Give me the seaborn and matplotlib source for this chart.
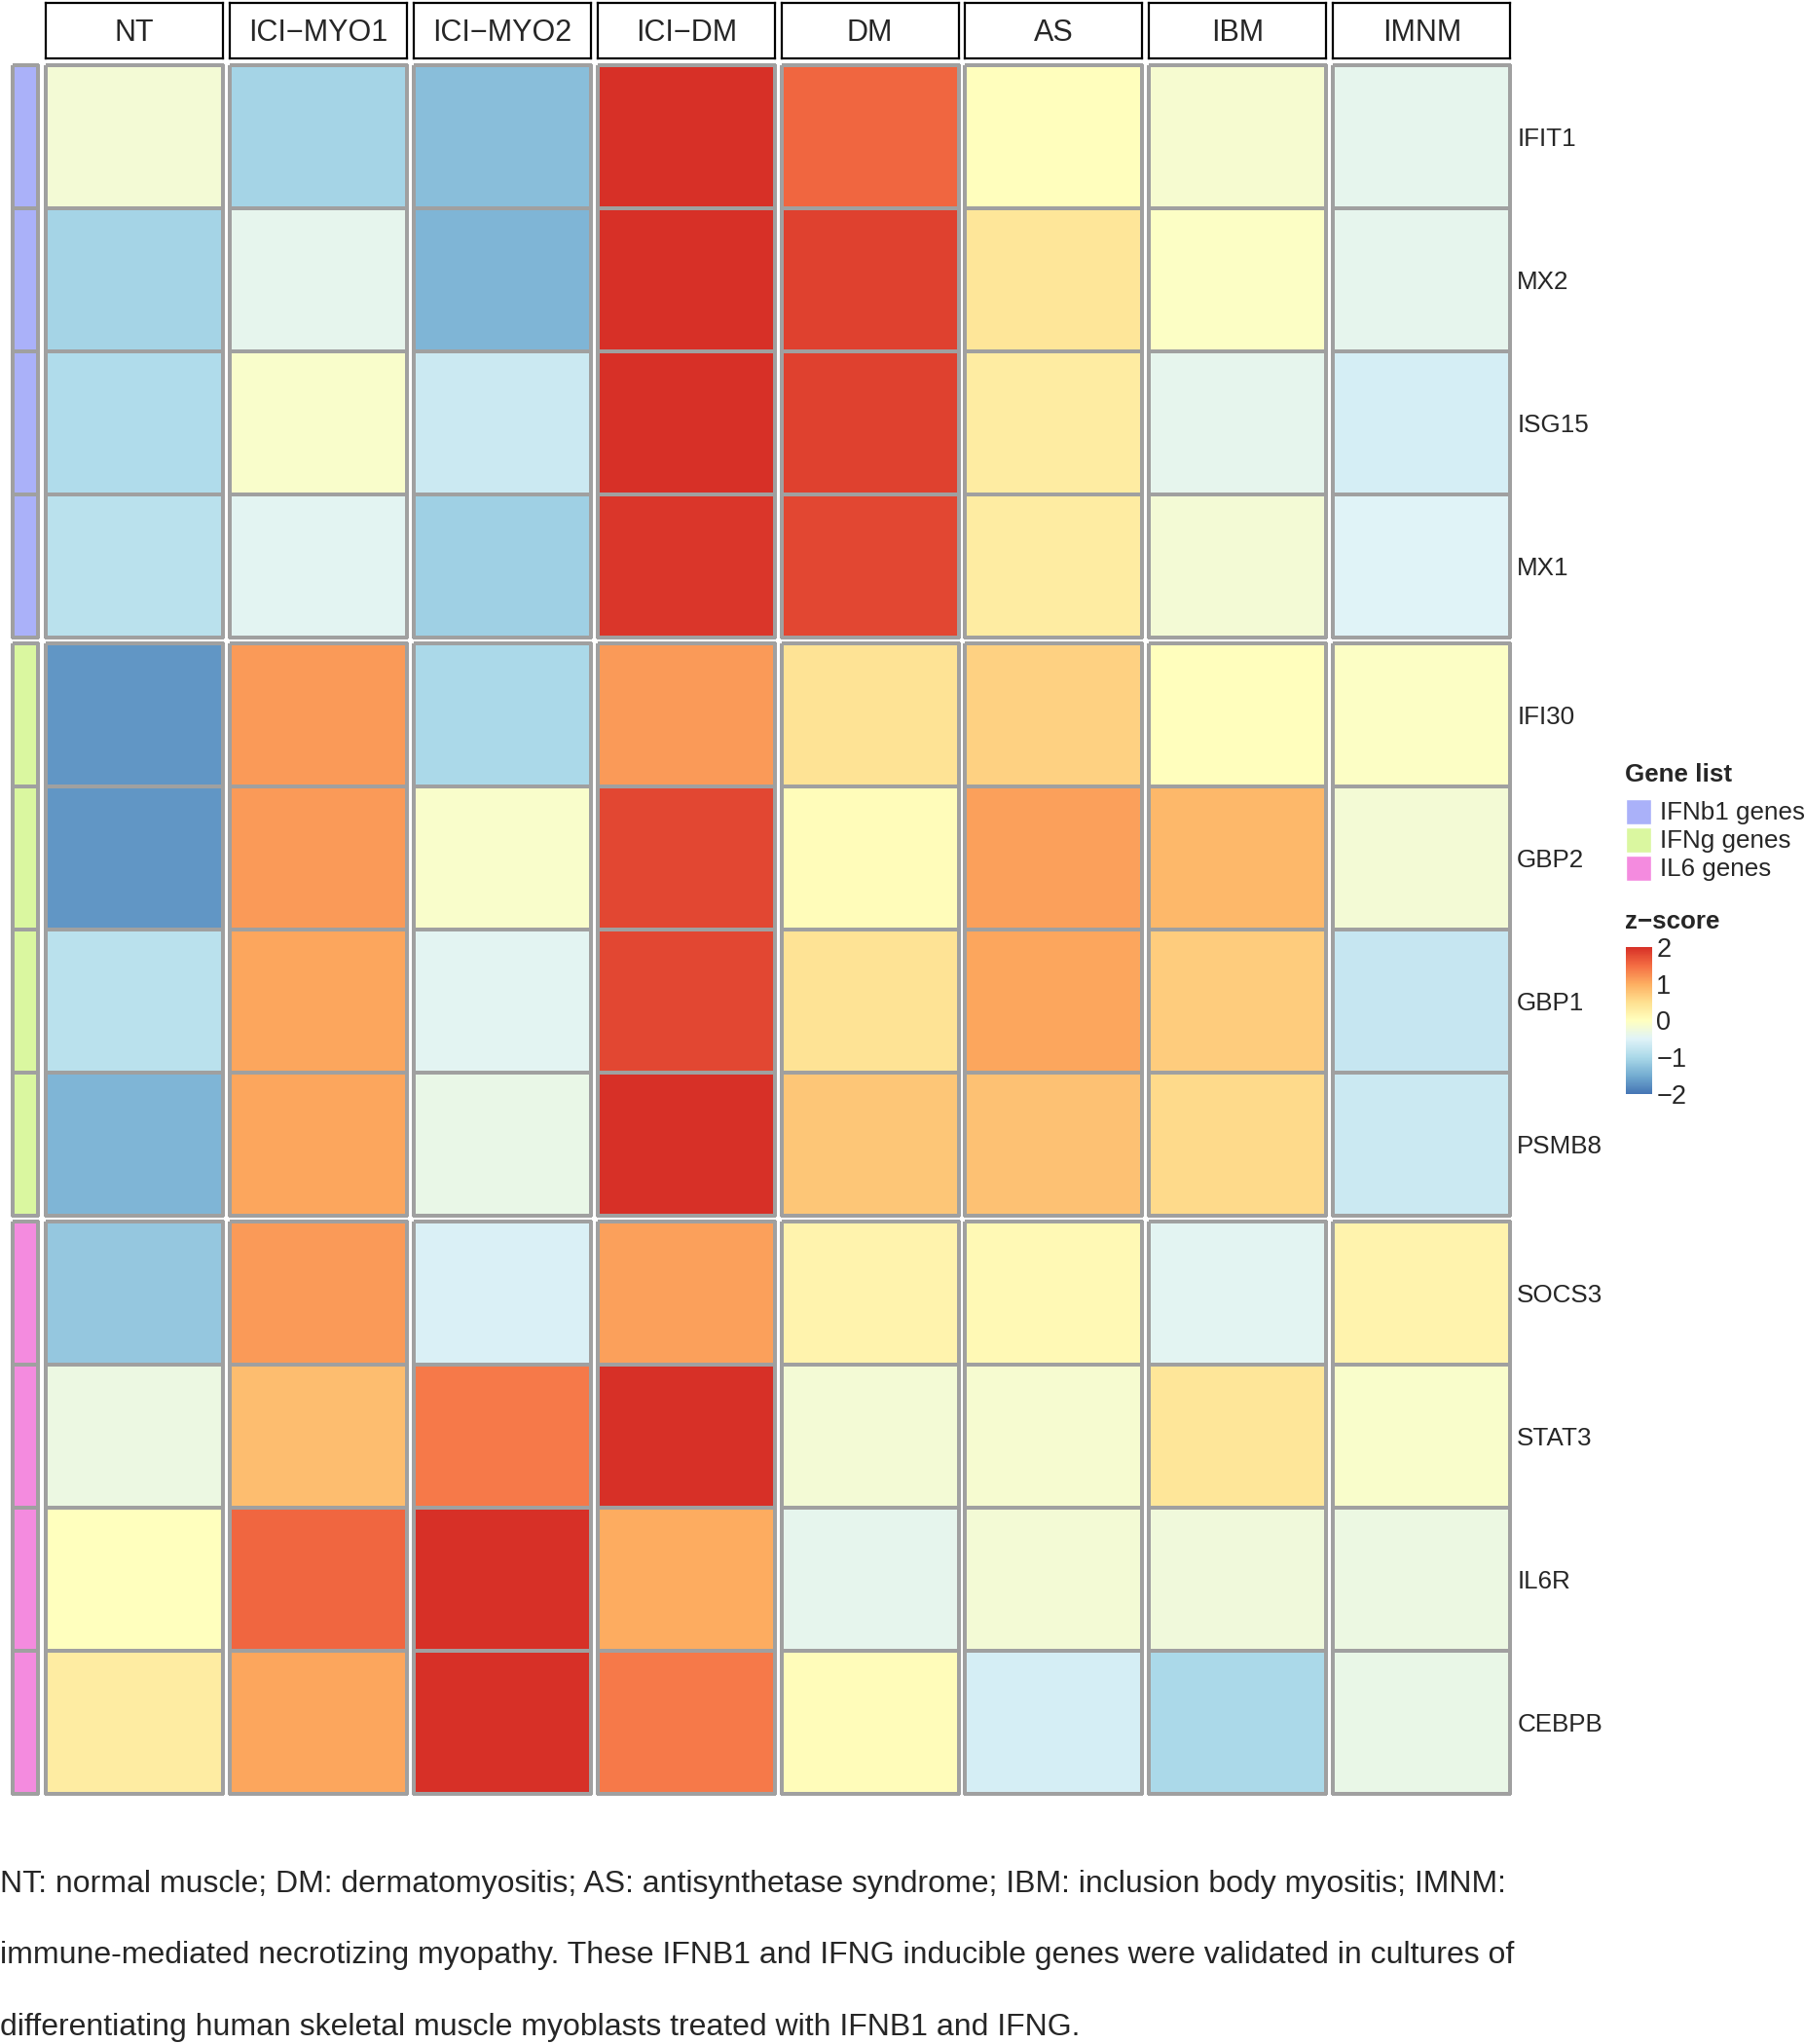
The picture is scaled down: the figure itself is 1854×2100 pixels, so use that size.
"""Z-score heatmap of IFN / IL6 inducible genes across myositis groups"""
import matplotlib
matplotlib.use('Agg')
import matplotlib.pyplot as plt
import matplotlib.colors as mcolors
import numpy as np
import pandas as pd
import seaborn as sns

# groups (columns)
conditions = ['NT', 'ICI\u2212MYO1', 'ICI\u2212MYO2', 'ICI\u2212DM', 'DM', 'AS', 'IBM', 'IMNM']

# gene lists (row blocks)
gene_lists = ['IFNb1 genes', 'IFNg genes', 'IL6 genes']
list_colors = ['#AAB1F9', '#DAF7A0', '#F48BDF']

ifnb1_genes = ['IFIT1', 'MX2', 'ISG15', 'MX1']
ifng_genes = ['IFI30', 'GBP2', 'GBP1', 'PSMB8']
il6_genes = ['SOCS3', 'STAT3', 'IL6R', 'CEBPB']

# z-scores, one row per gene, columns follow `conditions`
ifnb1_z = [
    [-0.20, -1.05, -1.30, 2.00, 1.55, 0.02, -0.15, -0.40],
    [-1.05, -0.40, -1.40, 2.00, 1.85, 0.40, -0.05, -0.40],
    [-0.95, -0.10, -0.70, 2.00, 1.85, 0.30, -0.40, -0.60],
    [-0.85, -0.45, -1.10, 1.95, 1.80, 0.30, -0.20, -0.50],
]
ifng_z = [
    [-1.70, 1.15, -1.00, 1.15, 0.45, 0.65, 0.02, -0.05],
    [-1.70, 1.15, -0.10, 1.80, 0.05, 1.10, 0.90, -0.20],
    [-0.85, 1.05, -0.45, 1.80, 0.45, 1.05, 0.70, -0.75],
    [-1.40, 1.05, -0.35, 2.00, 0.75, 0.80, 0.55, -0.70],
]
il6_z = [
    [-1.20, 1.15, -0.55, 1.10, 0.20, 0.10, -0.45, 0.20],
    [-0.30, 0.85, 1.40, 2.00, -0.20, -0.15, 0.40, -0.10],
    [0.00, 1.55, 2.00, 1.00, -0.40, -0.20, -0.25, -0.30],
    [0.30, 1.05, 2.00, 1.40, 0.05, -0.60, -1.00, -0.35],
]

caption = ("NT: normal muscle; DM: dermatomyositis; AS: antisynthetase syndrome; IBM: inclusion body myositis; IMNM:\n"
           "immune-mediated necrotizing myopathy. These IFNB1 and IFNG inducible genes were validated in cultures of\n"
           "differentiating human skeletal muscle myoblasts treated with IFNB1 and IFNG.")

sns.set_theme(style='white')
plt.rcParams['font.family'] = ['Liberation Sans', 'DejaVu Sans']

W, H = 1854, 2100
fig = plt.figure(figsize=(W / 100, H / 100), dpi=100)


def box(x0, y0, x1, y1):
    """pixel box (top-left origin) -> figure fraction rect"""
    return [x0 / W, 1 - y1 / H, (x1 - x0) / W, (y1 - y0) / H]


# RdYlBu (9 class) reversed, mapped onto -2..2
rdylbu = ['#4575B4', '#74ADD1', '#ABD9E9', '#E0F3F8', '#FFFFBF',
          '#FEE090', '#FDAE61', '#F46D43', '#D73027']
cmap = mcolors.LinearSegmentedColormap.from_list('zscore', rdylbu)
grid_col = '#a0a0a0'
lw = 1.5

col_left = 47
col_step = 188.9
col_w = 182
block_tops = [67, 661, 1255]
block_h = 588

blocks = [(ifnb1_genes, ifnb1_z), (ifng_genes, ifng_z), (il6_genes, il6_z)]

# column headers
for j, cond in enumerate(conditions):
    x0 = col_left + j * col_step
    ax = fig.add_axes(box(x0, 3, x0 + col_w, 60))
    ax.set_xticks([])
    ax.set_yticks([])
    for sp in ax.spines.values():
        sp.set_visible(True)
        sp.set_color('black')
        sp.set_linewidth(1.6)
    ax.text(0.5, 0.45, cond, ha='center', va='center', fontsize=22, transform=ax.transAxes)

for b, (genes, z) in enumerate(blocks):
    df = pd.DataFrame(z, index=genes, columns=conditions)
    top = block_tops[b]

    # gene list annotation bar
    ann = pd.DataFrame(np.full((len(genes), 1), b), index=genes)
    ax = fig.add_axes(box(13, top, 39, top + block_h))
    sns.heatmap(ann, ax=ax, cmap=mcolors.ListedColormap(list_colors), vmin=-0.5, vmax=2.5,
                cbar=False, linewidths=lw, linecolor=grid_col, xticklabels=False, yticklabels=False)
    ax.collections[0].set_clip_on(False)

    for j, cond in enumerate(conditions):
        x0 = col_left + j * col_step
        ax = fig.add_axes(box(x0, top, x0 + col_w, top + block_h))
        sns.heatmap(df[[cond]], ax=ax, cmap=cmap, vmin=-2, vmax=2, cbar=False,
                    linewidths=lw, linecolor=grid_col, xticklabels=False,
                    yticklabels=genes if j == len(conditions) - 1 else False)
        ax.collections[0].set_clip_on(False)
        if j == len(conditions) - 1:
            ax.yaxis.tick_right()
            ax.tick_params(axis='y', length=0, pad=5, labelsize=18.7, rotation=0)
            ax.set_ylabel('')

# legend: gene list
fig.text(1669 / W, 1 - 796 / H, 'Gene list', fontsize=18.7, fontweight='bold', va='center', ha='left')
for k, (name, c) in enumerate(zip(gene_lists, list_colors)):
    y0 = 821 + k * 29
    lax = fig.add_axes(box(1670, y0, 1696, y0 + 26))
    lax.add_patch(plt.Rectangle((0, 0), 1, 1, facecolor=c, edgecolor='white', lw=1))
    lax.set_xlim(0, 1)
    lax.set_ylim(0, 1)
    lax.axis('off')
    fig.text(1705 / W, 1 - (y0 + 14) / H, name, fontsize=18.7, va='center', ha='left')

# legend: z-score colour bar
fig.text(1669 / W, 1 - 947 / H, 'z\u2212score', fontsize=18.7, fontweight='bold', va='center', ha='left')
cax = fig.add_axes(box(1670, 970, 1697, 1127))
sm = plt.cm.ScalarMappable(cmap=cmap, norm=mcolors.Normalize(vmin=-2, vmax=2))
cb = fig.colorbar(sm, cax=cax, ticks=[-2, -1, 0, 1, 2])
cax.set_ylim(-2.08, 2.08)
cb.outline.set_visible(False)
cax.set_yticklabels(['\u22122', '\u22121', '0', '1', '2'])
cax.tick_params(axis='y', which='both', direction='in', color='white', width=1.5, length=5,
                left=True, right=True, labelsize=19.5, pad=3)

# caption
for i, line in enumerate(caption.split('\n')):
    fig.text(0, 1 - (1936 + i * 73.5) / H, line, fontsize=23, va='center', ha='left')

fig.savefig('out.png', dpi=100)
